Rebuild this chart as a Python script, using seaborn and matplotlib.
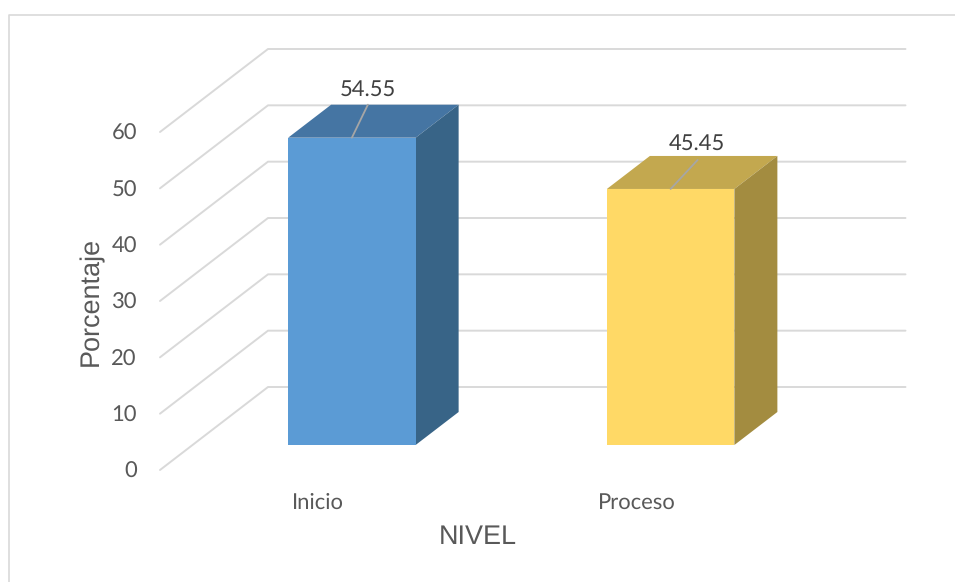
import matplotlib
matplotlib.use('Agg')
import matplotlib.pyplot as plt
import pandas as pd
import seaborn as sns
from matplotlib.lines import Line2D
from matplotlib.patches import Polygon
from matplotlib.transforms import Affine2D, IdentityTransform

niveles = ['Inicio', 'Proceso']
porcentaje = [54.55, 45.45]
y_ticks = [0, 10, 20, 30, 40, 50, 60]

front_colors = ['#5b9bd5', '#ffd966']
top_colors = ['#4575a3', '#c3a84f']
side_colors = ['#386487', '#a38c40']

W, H = 955, 582
FRONT = (-32.5, -25)   # from the bar plane to the front edge of the floor
BACK = (75.5, 58)      # from the bar plane to the back wall
DEPTH = (43, 33)       # bar depth
GRID = '#d9d9d9'

sns.set_style('white')
plt.rcParams['text.hinting'] = 'none'
plt.rcParams['text.hinting_factor'] = 1

fig = plt.figure(figsize=(W / 100, H / 100), dpi=100)
ax = fig.add_axes([192.5 / W, 137 / H, 637.5 / W, 338 / H])

df = pd.DataFrame({'nivel': niveles, 'porcentaje': porcentaje})
sns.barplot(data=df, x='nivel', y='porcentaje', hue='nivel', palette=front_colors,
            order=niveles, hue_order=niveles, width=0.4, dodge=False, legend=False,
            saturation=1, linewidth=0, ax=ax, zorder=3)
ax.set_xlim(-0.5, 1.5)
ax.set_ylim(0, 60)
ax.patch.set_alpha(0)
sns.despine(ax=ax, left=True, bottom=True)


def px(x, y):
    return ax.transData.transform((x, y))


# walls: every gridline runs along the side wall, then along the back wall
for v in y_ticks:
    x0, y0 = px(-0.5, v)
    x1, y1 = px(1.5, v)
    ax.add_artist(Line2D([x0 + FRONT[0], x0 + BACK[0], x1 + BACK[0]],
                         [y0 + FRONT[1], y0 + BACK[1], y1 + BACK[1]],
                         transform=IdentityTransform(), color=GRID, lw=1.4,
                         zorder=1, clip_on=False))

# 3d faces of the bars
bars = [p for p in ax.patches if p.get_height() > 0]
for bar, top_c, side_c in zip(bars, top_colors, side_colors):
    l, r = bar.get_x(), bar.get_x() + bar.get_width()
    (xl, yb), (xr, yt) = px(l, 0), px(r, bar.get_height())
    dx, dy = DEPTH
    ax.add_patch(Polygon([(xl, yt), (xr, yt), (xr + dx, yt + dy), (xl + dx, yt + dy)],
                         transform=IdentityTransform(), fc=top_c, ec='none',
                         zorder=2, clip_on=False))
    ax.add_patch(Polygon([(xr, yb), (xr + dx, yb + dy), (xr + dx, yt + dy), (xr, yt)],
                         transform=IdentityTransform(), fc=side_c, ec='none',
                         zorder=2, clip_on=False))

# data labels with leader lines
leader_ends = [(16, 33), (27, 29)]
label_offsets = [(16, 48), (26, 45)]
for i, v in enumerate(porcentaje):
    ax.annotate('', xy=(i, v), xytext=leader_ends[i], textcoords='offset pixels',
                arrowprops=dict(arrowstyle='-', color='#a6a6a6', lw=1.3,
                                shrinkA=0, shrinkB=0), zorder=5)
    ax.annotate(f'{v:.2f}', xy=(i, v), xytext=label_offsets[i], textcoords='offset pixels',
                ha='center', va='center', fontsize=15.5, color='#404040',
                family='Lato', zorder=6)

# tick labels sit on the front edge of the floor
ax.set_xticks(range(len(niveles)), niveles)
ax.set_yticks(y_ticks, [str(v) for v in y_ticks])
ax.tick_params(length=0, pad=0)
for lab in ax.get_xticklabels():
    lab.set(family='Lato', fontsize=15.5, color='#595959', va='center')
    lab.set_transform(lab.get_transform() + Affine2D().translate(FRONT[0] - 1, -58))
for lab in ax.get_yticklabels():
    lab.set(family='Lato', fontsize=15.5, color='#595959', va='center', ha='right')
    lab.set_transform(lab.get_transform() + Affine2D().translate(-55.5, FRONT[1] - 2))

ax.set_xlabel('NIVEL', fontsize=19.5, color='#595959', family='Liberation Sans')
ax.set_ylabel('Porcentaje', fontsize=19.5, color='#595959', family='Liberation Sans')
ax.xaxis.set_label_coords(478 / W, 1 - 537 / H, transform=fig.transFigure)
ax.yaxis.set_label_coords(91 / W, 1 - 301.5 / H, transform=fig.transFigure)
ax.xaxis.label.set_va('center')
ax.yaxis.label.set_va('center')

# chart frame, cut off at the top and right of the image
fig.add_artist(Line2D([9 / W, 9 / W, 1], [0, 1 - 14.5 / H, 1 - 14.5 / H],
                      color=GRID, lw=1.2))

fig.savefig('out.png', dpi=100)
